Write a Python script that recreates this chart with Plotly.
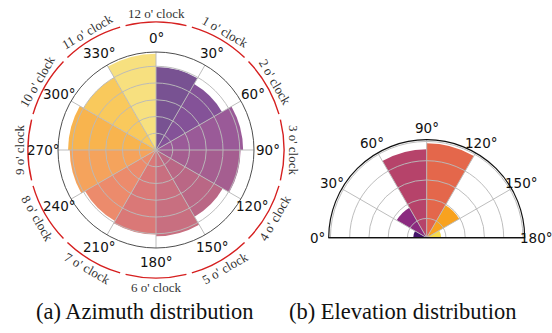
import math
import plotly.graph_objects as go

W, H = 552, 333

# ---------------- data ----------------
az_theta = [15, 45, 75, 105, 135, 165, 195, 225, 255, 285, 315, 345]
az_width = [30, 30, 30, 30, 30, 30, 30, 30, 30, 30, 30, 30]
az_r = [4.95, 4.55, 5.2, 5.05, 4.6, 5.15, 5.05, 4.9, 5.15, 5.25, 5.0, 5.75]
az_colors = ["#785292", "#845298", "#9A5A98", "#A55E90", "#BA6785", "#C86F80",
             "#DA7877", "#EC8B6C", "#F5A35C", "#F8B44E", "#F9C95C", "#F7E07F"]
az_tickvals = [0, 30, 60, 90, 120, 150, 180, 210, 240, 270, 300, 330]
az_ticktext = ["0°", "30°", "60°", "90°", "120°", "150°", "180°", "210°",
               "240°", "270°", "300°", "330°"]
az_radial_ticks = [1, 2, 3, 4, 5]

el_theta = [15, 45, 75, 105, 135, 165]
el_width = [30, 30, 30, 30, 30, 30]
el_r = [0.7, 1.8, 4.6, 4.9, 1.95, 0.75]
el_colors = ["#44146A", "#8B2A7F", "#B6436A", "#E4674B", "#F8A21F", "#F5DC4C"]
el_tickvals = [0, 30, 60, 90, 120, 150, 180]
el_ticktext = ["0°", "30°", "60°", "90°", "120°", "150°", "180°"]
el_radial_ticks = [1, 2, 3, 4, 5]

clock_angles = [0, 30, 60, 90, 120, 150, 180, 210, 240, 270, 300, 330]
clock_labels = ["12 o' clock", "1 o' clock", "2 o' clock", "3 o' clock",
                "4 o' clock", "5 o' clock", "6 o' clock", "7 o' clock",
                "8 o' clock", "9 o' clock", "10 o' clock", "11 o' clock"]
clock_text_angle = [0, 30, 60, 90, -60, -30, 0, 30, 60, -90, -60, -30]

captions = ["(a) Azimuth distribution", "(b) Elevation distribution"]

# ---------------- geometry (pixels) ----------------
L_CX, L_CY, L_R = 156.0, 150.0, 98.0      # left polar centre / radius
L_TICK_R = 112.0                           # radius of angular label centres
RING_R = 128.0                             # red clock ring radius
LABEL_R = 137.0                            # clock label radius
R_CX, R_CY, R_R = 426.7, 237.7, 98.0       # right half-polar
R_TICK_R = 109.5                           # radius of angular label centres


def dom_circle(cx, cy, r):
    return dict(x=[(cx - r) / W, (cx + r) / W],
                y=[(H - cy - r) / H, (H - cy + r) / H])


def dom_half(cx, cy, r):
    return dict(x=[(cx - r) / W, (cx + r) / W],
                y=[(H - cy) / H, (H - cy + r) / H])


GRID = "rgba(185,185,185,0.95)"
TICKFONT = dict(family="DejaVu Sans", size=13.5, color="#111")
CLEAR = "rgba(0,0,0,0)"

# the half-polar is drawn counter-clockwise from the right, so elevation
# angle e sits at plot angle 180 - e (0° on the left, 180° on the right)
el_plot_theta = [180 - t for t in el_theta]
el_plot_tickvals = [180 - t for t in el_tickvals]

fig = go.Figure()

# left: bars
fig.add_trace(go.Barpolar(r=az_r, theta=az_theta, width=az_width,
                          marker=dict(color=az_colors, line=dict(width=0)),
                          subplot="polar", showlegend=False, hoverinfo="skip"))
# left: grid overlay (dummy invisible point)
fig.add_trace(go.Scatterpolar(r=[0], theta=[0], mode="markers",
                              marker=dict(opacity=0), subplot="polar2",
                              showlegend=False, hoverinfo="skip"))
# left: red clock ring
fig.add_trace(go.Barpolar(r=[0.011] * 12, base=[0.995] * 12, theta=clock_angles,
                          width=[27.5] * 12,
                          marker=dict(color="#D62020", line=dict(width=0)),
                          subplot="polar3", showlegend=False, hoverinfo="skip"))
# right: bars
fig.add_trace(go.Barpolar(r=el_r, theta=el_plot_theta, width=el_width,
                          marker=dict(color=el_colors, line=dict(width=0)),
                          subplot="polar4", showlegend=False, hoverinfo="skip"))
fig.add_trace(go.Scatterpolar(r=[0], theta=[90], mode="markers",
                              marker=dict(opacity=0), subplot="polar5",
                              showlegend=False, hoverinfo="skip"))

hidden_ang = dict(showgrid=False, showline=False, showticklabels=False, ticks="")

fig.update_layout(
    width=W, height=H, margin=dict(l=0, r=0, t=0, b=0),
    paper_bgcolor="white", plot_bgcolor="white",
    polar=dict(
        domain=dom_circle(L_CX, L_CY, L_R), bgcolor="white",
        angularaxis=dict(rotation=90, direction="clockwise", **hidden_ang),
        radialaxis=dict(range=[0, 5.85], showgrid=False, showline=False,
                        showticklabels=False, ticks=""),
    ),
    polar2=dict(
        domain=dom_circle(L_CX, L_CY, L_R), bgcolor=CLEAR,
        angularaxis=dict(rotation=90, direction="clockwise",
                         tickmode="array", tickvals=az_tickvals,
                         showticklabels=False,
                         showgrid=True, gridcolor=GRID, gridwidth=1,
                         showline=True, linecolor="#3a3a3a", linewidth=0.9,
                         ticks=""),
        radialaxis=dict(range=[0, 5.85], tickmode="array", tickvals=az_radial_ticks,
                        showgrid=True, gridcolor=GRID, gridwidth=1,
                        showline=False, showticklabels=False, ticks=""),
    ),
    polar3=dict(
        domain=dom_circle(L_CX, L_CY, RING_R + 2), bgcolor=CLEAR,
        angularaxis=dict(rotation=90, direction="clockwise", **hidden_ang),
        radialaxis=dict(range=[0, (RING_R + 2) / RING_R], showgrid=False,
                        showline=False, showticklabels=False, ticks=""),
    ),
    polar4=dict(
        domain=dom_half(R_CX, R_CY, R_R), bgcolor="white", sector=[0, 180],
        angularaxis=dict(rotation=0, direction="counterclockwise", **hidden_ang),
        radialaxis=dict(range=[0, 5.09], showgrid=False, showline=True,
                        linecolor="#111", linewidth=1.2, angle=180,
                        showticklabels=False, ticks=""),
    ),
    polar5=dict(
        domain=dom_half(R_CX, R_CY, R_R), bgcolor=CLEAR, sector=[0, 180],
        angularaxis=dict(rotation=0, direction="counterclockwise",
                         tickmode="array", tickvals=el_plot_tickvals,
                         showticklabels=False,
                         showgrid=True, gridcolor=GRID, gridwidth=1,
                         showline=True, linecolor="#111", linewidth=1.2,
                         ticks=""),
        radialaxis=dict(range=[0, 5.09], tickmode="array", tickvals=el_radial_ticks,
                        showgrid=True, gridcolor=GRID, gridwidth=1,
                        showline=True, linecolor="#111", linewidth=1.2, angle=0,
                        showticklabels=False, ticks=""),
    ),
)

annotations = []


def add_text(px, py, text, font, angle=0):
    annotations.append(dict(x=px / W, y=(H - py) / H, xref="paper", yref="paper",
                            text=text, showarrow=False, textangle=angle,
                            xanchor="center", yanchor="middle", font=font))


# angular tick labels, centred on their angle (matplotlib style)
for tv, tt in zip(az_tickvals, az_ticktext):
    a = math.radians(tv)
    add_text(L_CX + L_TICK_R * math.sin(a), L_CY - L_TICK_R * math.cos(a), tt, TICKFONT)
for tv, tt in zip(el_tickvals, el_ticktext):
    a = math.radians(tv)
    add_text(R_CX - R_TICK_R * math.cos(a), R_CY - R_TICK_R * math.sin(a), tt, TICKFONT)

# clock labels around the azimuth plot
for ang, lab, ta in zip(clock_angles, clock_labels, clock_text_angle):
    a = math.radians(ang)
    add_text(L_CX + LABEL_R * math.sin(a), L_CY - LABEL_R * math.cos(a), lab,
             dict(family="Liberation Serif", size=13, color="#333"), ta)

for cap, cx in zip(captions, [144.0, 402.5]):
    add_text(cx, 311.5, cap, dict(family="Liberation Serif", size=22.5, color="#111"))

fig.update_layout(annotations=annotations)

fig.write_html("out.html",
               config={"displayModeBar": False, "staticPlot": True},
               post_script="document.body.style.margin='0px';"
                           "document.body.style.overflow='hidden';")
